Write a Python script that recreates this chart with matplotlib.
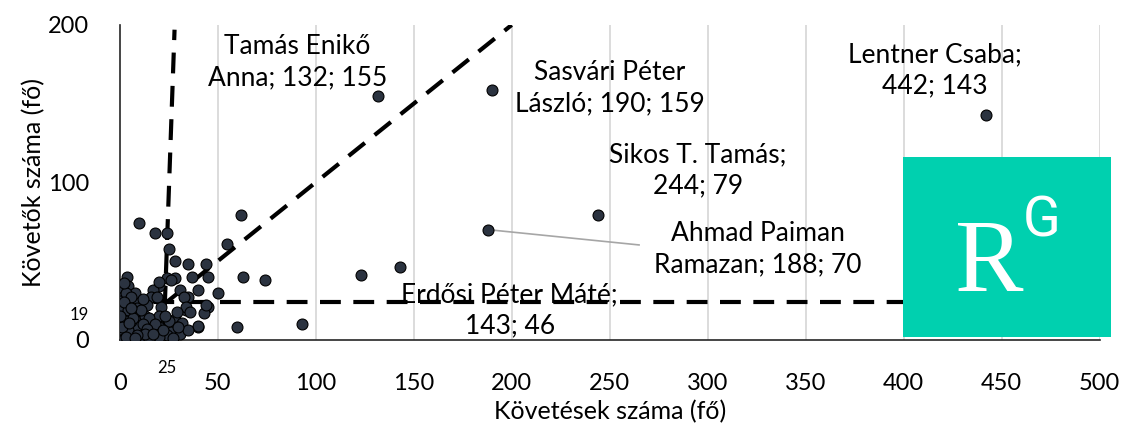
import matplotlib
matplotlib.use("Agg")
import matplotlib.pyplot as plt
from matplotlib.patches import Rectangle

plt.rcParams['font.family'] = ['Lato', 'DejaVu Sans']

# followings (x) and followers (y)
follows = [442, 190, 132, 244, 188, 143, 123, 93, 74, 62, 55, 63, 60, 50, 45, 40, 44, 45,
           37, 35, 28, 25, 24, 18, 10, 40, 35, 34, 43, 28, 31, 28, 24, 20, 17, 16, 20, 26,
           33, 34, 36, 29, 21, 44,
           3.5, 4, 8, 1, 1.5, 3.5, 7.6, 1, 5, 10, 13, 20, 15, 32, 40, 29, 26, 20, 16, 11,
           7, 1, 3.5, 0, 24, 31, 20, 12, 0, 5, 9, 2, 6, 12, 0, 3, 9, 14, 18, 25, 22, 35,
           0, 2, 6, 10, 15, 27, 1, 4, 14,
           2, 6, 0, 4, 8, 11, 3, 7, 1, 5, 13, 17, 9, 0, 2, 6, 12, 19, 23, 30, 3, 8]
followers = [143, 159, 155, 79, 70, 46, 41, 10, 38, 79, 61, 40, 8, 30, 21, 8, 48, 40,
             40, 48, 50, 58, 68, 68, 74, 32, 27, 19, 17, 13, 32, 39, 39, 34, 32, 27, 37, 38,
             27, 21, 18, 18, 21, 22,
             40, 34, 30, 32, 27, 23.5, 23.5, 17, 16, 15, 15, 15, 14, 11, 9, 8, 5, 8, 5, 5,
             5, 5, 3, 2, 3, 4, 2, 2, 11, 9.5, 9, 20, 12, 10, 25, 30, 20, 22, 10, 12, 6, 6,
             7, 0.5, 1, 1, 0.5, 1, 14, 6, 7,
             36, 27, 20, 19, 18, 19, 12, 14, 8, 11, 4, 4, 3, 15, 24, 20, 26, 27, 15, 8, 2, 1]

# labelled people and text positions
labels = ["Tamás Enikő\nAnna; 132; 155", "Sasvári Péter\nLászló; 190; 159",
          "Lentner Csaba;\n442; 143", "Sikos T. Tamás;\n244; 79",
          "Ahmad Paiman\nRamazan; 188; 70", "Erdősi Péter Máté;\n143; 46"]
label_x = [90.8, 250, 415.8, 295, 325.5, 199]
label_y = [176.5, 160, 171.4, 108, 57.8, 19]

fig = plt.figure(figsize=(11.29, 4.38), dpi=100)
ax = fig.add_axes([0.106, 0.224, 0.868, 0.719])

xticks = list(range(0, 501, 50))
for t in xticks[1:]:
    ax.axvline(t, color='#d9d9d9', lw=1.3, zorder=0)

dash = (0, (5, 3))
ax.plot([0, 500], [24, 24], color='black', lw=3, linestyle=dash, zorder=1)
ax.plot([24, 200], [24, 200], color='black', lw=3, linestyle=dash, zorder=1)
ax.plot([22.4, 28], [0, 197], color='black', lw=3, linestyle=dash, zorder=1)

ax.plot([188, 265], [70, 60.3], color='#a6a6a6', lw=1.2, zorder=2)
ax.scatter(follows, followers, s=62, color='#2b3340', edgecolor='black',
           linewidth=0.8, zorder=3)

for txt, tx, ty in zip(labels, label_x, label_y):
    ax.text(tx, ty, txt, ha='center', va='center', fontsize=19,
            linespacing=1.3, zorder=4)

ax.text(-20.4, 16, "19", fontsize=12, ha='center', va='center', clip_on=False)
ax.text(24, -17.8, "25", fontsize=12, ha='center', va='center', clip_on=False)

ax.set_xlim(0, 500)
ax.set_ylim(0, 200)
ax.set_xticks(xticks)
ax.set_yticks([0, 100, 200])
ax.tick_params(length=0, labelsize=17)
ax.tick_params(axis='x', pad=24)
ax.tick_params(axis='y', pad=22)
for s in ['top', 'right']:
    ax.spines[s].set_visible(False)
for s in ['left', 'bottom']:
    ax.spines[s].set_color('#262626')
    ax.spines[s].set_linewidth(1.2)
ax.set_xlabel("Követések száma (fő)", fontsize=18, labelpad=4)
ax.set_ylabel("Követők száma (fő)", fontsize=18, labelpad=2)

# ResearchGate watermark
fig.patches.append(Rectangle((0.800, 0.231), 0.184, 0.411, transform=fig.transFigure,
                             facecolor='#00d0af', edgecolor='none', zorder=10))
fig.text(0.876, 0.336, "R", family='Liberation Serif', fontsize=74, color='white',
         ha='center', va='baseline', zorder=11)
fig.text(0.923, 0.459, "G", family='Roboto', fontsize=40, color='white',
         ha='center', va='baseline', zorder=11)

fig.savefig("out.png", dpi=100)
